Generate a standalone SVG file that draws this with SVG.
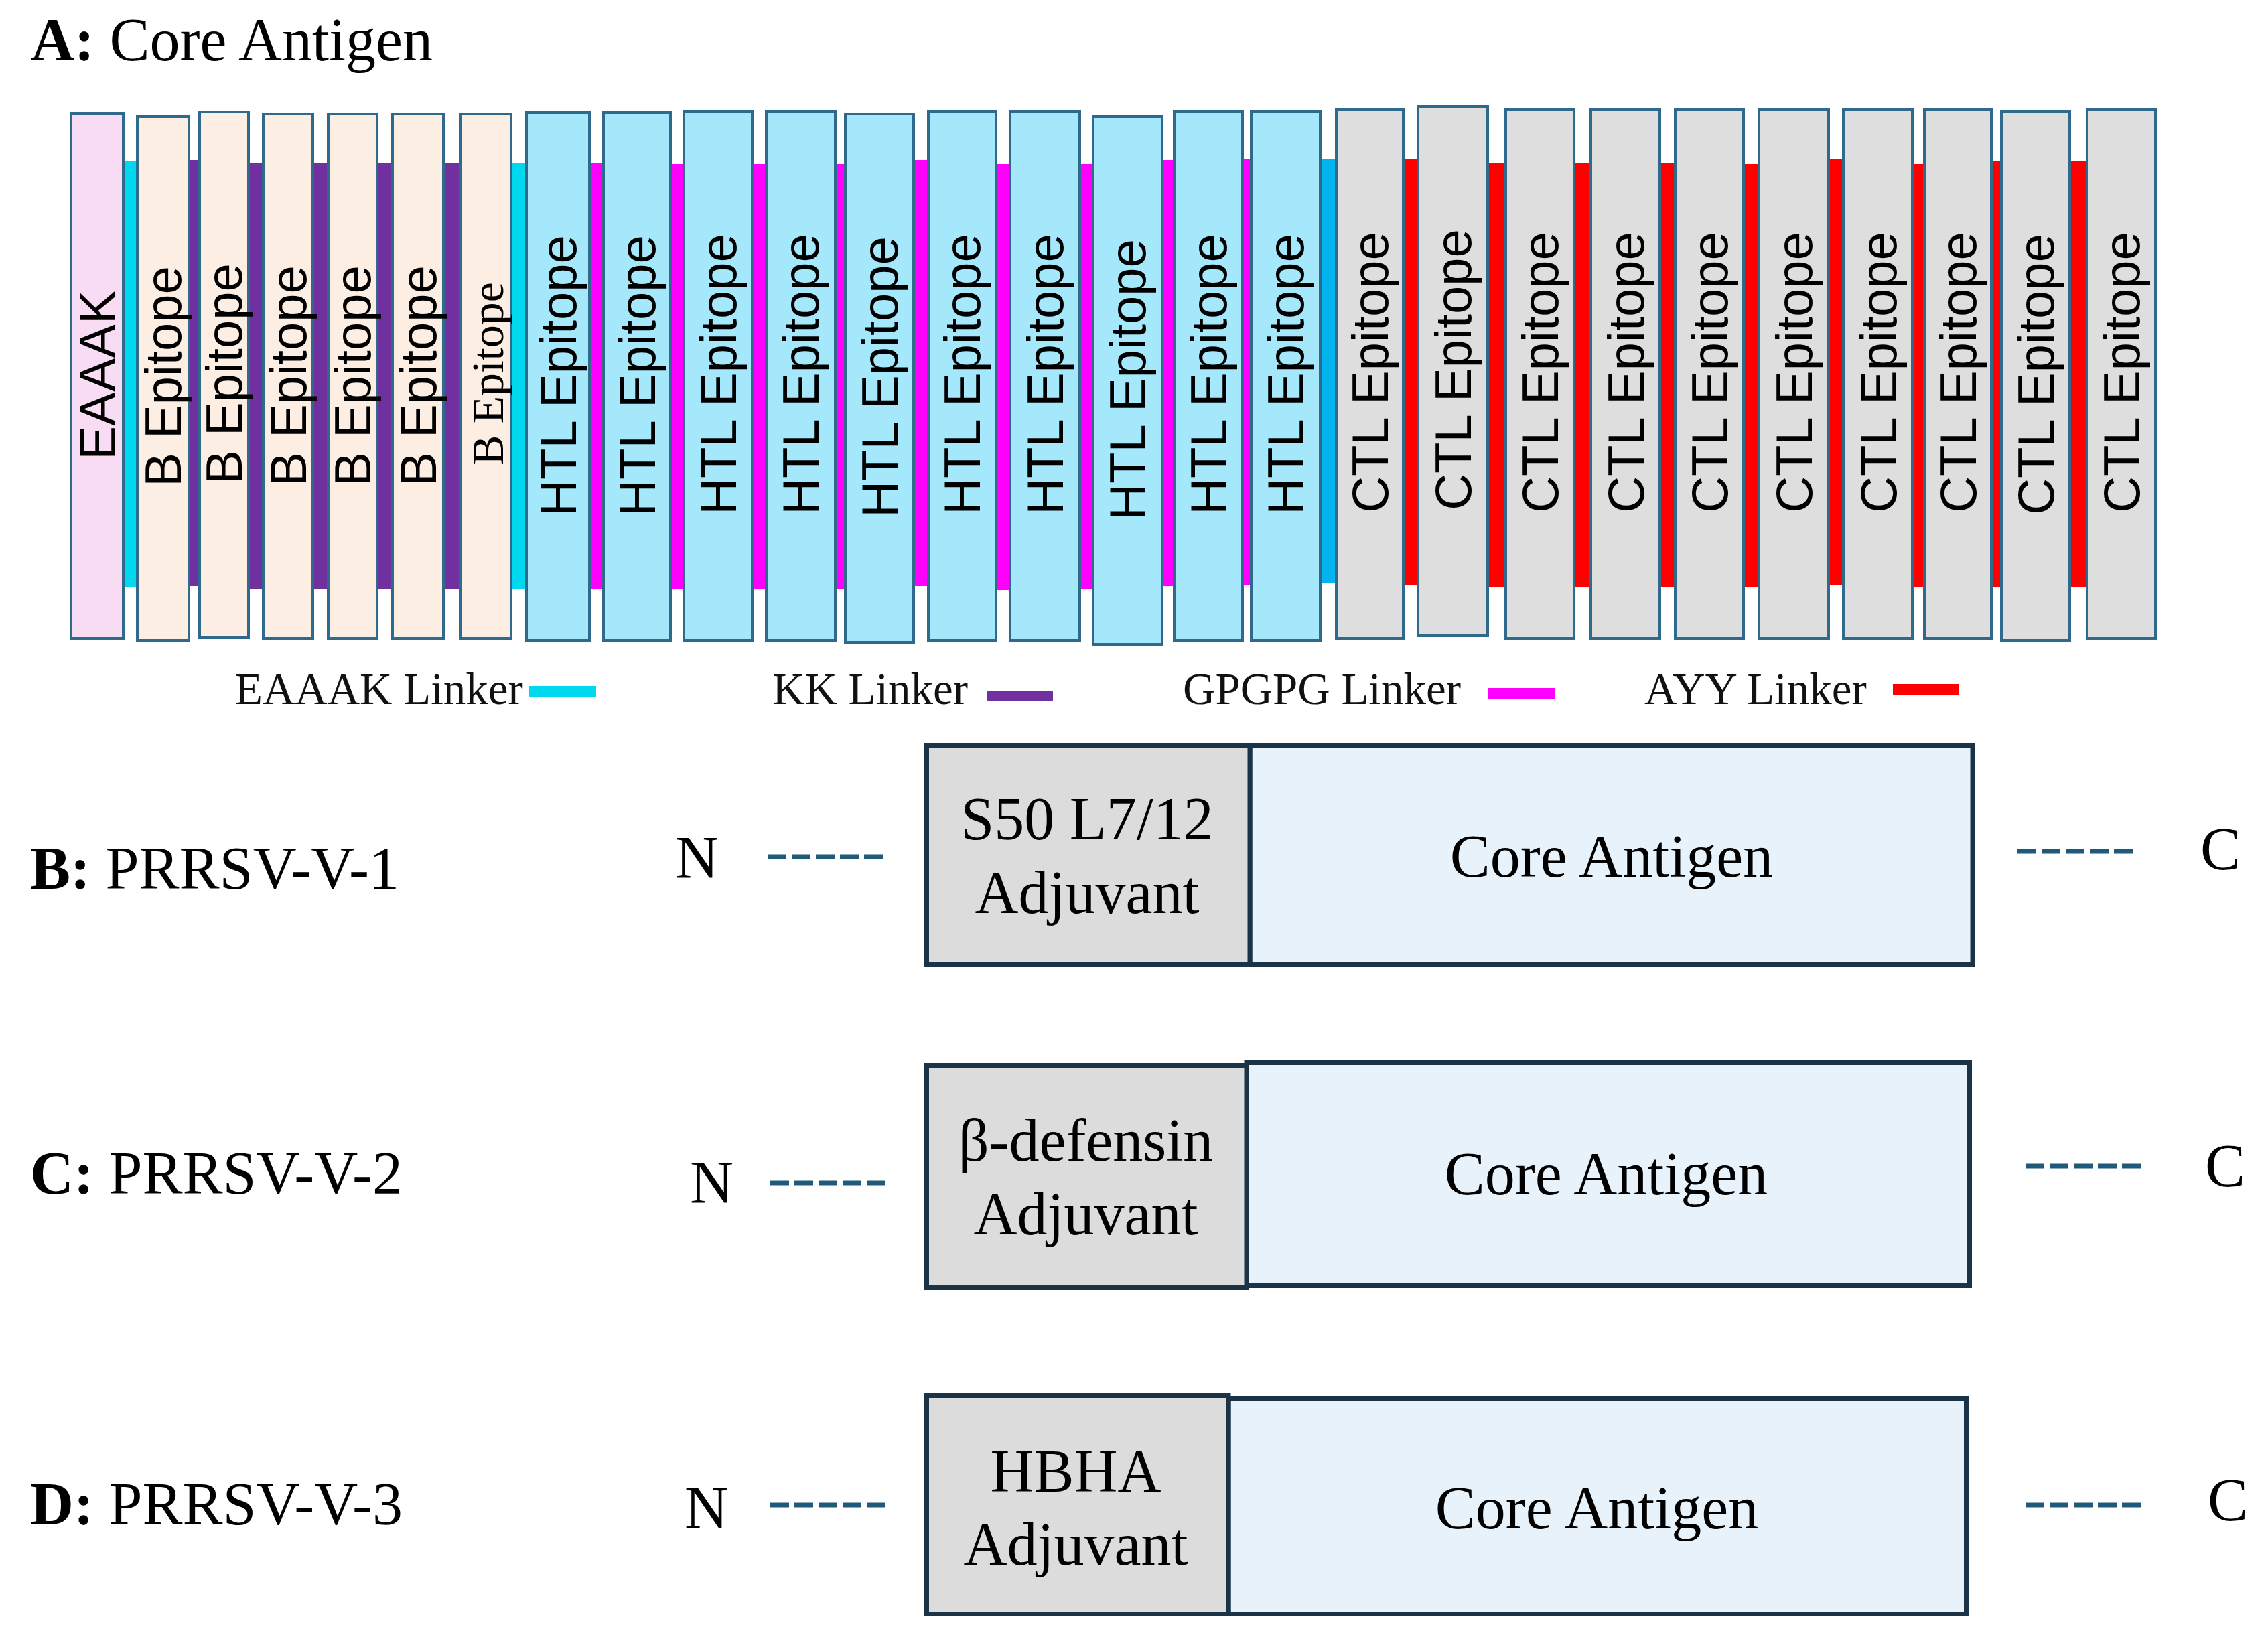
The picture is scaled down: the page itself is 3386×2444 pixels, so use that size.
<svg xmlns="http://www.w3.org/2000/svg" width="3386" height="2444" viewBox="0 0 3386 2444">
<style>
.lbl{font-family:"Liberation Serif","Times New Roman",serif;font-size:90px;fill:#000}
.mid{text-anchor:middle}
.ep{font-family:"Liberation Sans",Arial,sans-serif;font-size:76px;text-anchor:middle;fill:#000}
.ep6{font-family:"Liberation Serif","Times New Roman",serif;font-size:68px;text-anchor:middle;fill:#000}
.leg{font-family:"Liberation Serif","Times New Roman",serif;font-size:67px;fill:#111}
.box{stroke:#2f6a8c;stroke-width:4}
.eaaak{fill:#f8dcf3}.bep{fill:#fdeee3}.htl{fill:#a5e8fb}.ctl{fill:#dedede}
.adj{fill:#dcdcdc;stroke:#1b3347;stroke-width:7}
.core{fill:#e8f2fb;stroke:#1b3347;stroke-width:7}
.dash{stroke:#1f5b78;stroke-width:7;stroke-dasharray:28 8;fill:none}
.lc{fill:#00d8f0}.lk{fill:#7030a0}.lg{fill:#ff00ff}.la{fill:#ff0000}.lc2{fill:#00b4ef}
</style>
<rect width="3386" height="2444" fill="#fff"/>
<text class="lbl" x="46" y="90"><tspan font-weight="bold">A:</tspan> Core Antigen</text>
<g id="linkers">
<rect class="lc" x="183" y="241" width="23" height="636"/>
<rect class="lk" x="281" y="239" width="18" height="636"/>
<rect class="lk" x="370" y="243" width="24" height="636"/>
<rect class="lk" x="466" y="243" width="25" height="636"/>
<rect class="lk" x="562" y="243" width="25" height="636"/>
<rect class="lk" x="661" y="243" width="28" height="636"/>
<rect class="lc" x="762" y="243" width="25" height="636"/>
<rect class="lg" x="879" y="243" width="23" height="636"/>
<rect class="lg" x="1000" y="245" width="22" height="634"/>
<rect class="lg" x="1122" y="245" width="23" height="634"/>
<rect class="lg" x="1246" y="245" width="17" height="634"/>
<rect class="lg" x="1363" y="239" width="24" height="636"/>
<rect class="lg" x="1486" y="245" width="23" height="636"/>
<rect class="lg" x="1611" y="245" width="22" height="634"/>
<rect class="lg" x="1734" y="239" width="20" height="636"/>
<rect class="lg" x="1854" y="237" width="15" height="636"/>
<rect class="lc2" x="1972" y="237" width="24" height="634"/>
<rect class="la" x="2094" y="237" width="24" height="636"/>
<rect class="la" x="2220" y="243" width="29" height="634"/>
<rect class="la" x="2349" y="243" width="27" height="634"/>
<rect class="la" x="2477" y="243" width="25" height="634"/>
<rect class="la" x="2602" y="245" width="25" height="632"/>
<rect class="la" x="2729" y="237" width="24" height="636"/>
<rect class="la" x="2854" y="245" width="20" height="632"/>
<rect class="la" x="2966" y="241" width="23" height="636"/>
<rect class="la" x="3089" y="241" width="28" height="636"/>
</g>
<g id="n1"><rect class="box eaaak" x="106" y="169" width="78" height="784"/><text class="ep" transform="translate(172,560) rotate(-90)">EAAAK</text></g>
<g id="n2"><rect class="box bep" x="205" y="174" width="77" height="782"/><text class="ep" transform="translate(270,562) rotate(-90)">B Epitope</text></g>
<g id="n3"><rect class="box bep" x="298" y="167" width="73" height="785"/><text class="ep" transform="translate(361,558) rotate(-90)">B Epitope</text></g>
<g id="n4"><rect class="box bep" x="393" y="170" width="74" height="783"/><text class="ep" transform="translate(457,561) rotate(-90)">B Epitope</text></g>
<g id="n5"><rect class="box bep" x="490" y="170" width="73" height="783"/><text class="ep" transform="translate(553,561) rotate(-90)">B Epitope</text></g>
<g id="n6"><rect class="box bep" x="586" y="170" width="76" height="783"/><text class="ep" transform="translate(651,561) rotate(-90)">B Epitope</text></g>
<g id="n7"><rect class="box bep" x="688" y="170" width="75" height="783"/><text class="ep6" transform="translate(751,558) rotate(-90)">B Epitope</text></g>
<g id="n8"><rect class="box htl" x="786" y="168" width="94" height="788"/><text class="ep" transform="translate(860,561) rotate(-90)">HTL Epitope</text></g>
<g id="n9"><rect class="box htl" x="901" y="168" width="100" height="788"/><text class="ep" transform="translate(978,561) rotate(-90)">HTL Epitope</text></g>
<g id="n10"><rect class="box htl" x="1021" y="166" width="102" height="790"/><text class="ep" transform="translate(1099,559) rotate(-90)">HTL Epitope</text></g>
<g id="n11"><rect class="box htl" x="1144" y="166" width="103" height="790"/><text class="ep" transform="translate(1222,559) rotate(-90)">HTL Epitope</text></g>
<g id="n12"><rect class="box htl" x="1262" y="170" width="102" height="789"/><text class="ep" transform="translate(1340,563) rotate(-90)">HTL Epitope</text></g>
<g id="n13"><rect class="box htl" x="1386" y="166" width="101" height="790"/><text class="ep" transform="translate(1463,559) rotate(-90)">HTL Epitope</text></g>
<g id="n14"><rect class="box htl" x="1508" y="166" width="104" height="790"/><text class="ep" transform="translate(1587,559) rotate(-90)">HTL Epitope</text></g>
<g id="n15"><rect class="box htl" x="1632" y="174" width="103" height="788"/><text class="ep" transform="translate(1710,567) rotate(-90)">HTL Epitope</text></g>
<g id="n16"><rect class="box htl" x="1753" y="166" width="102" height="790"/><text class="ep" transform="translate(1831,559) rotate(-90)">HTL Epitope</text></g>
<g id="n17"><rect class="box htl" x="1868" y="166" width="103" height="790"/><text class="ep" transform="translate(1946,559) rotate(-90)">HTL Epitope</text></g>
<g id="n18"><rect class="box ctl" x="1995" y="163" width="100" height="790"/><text class="ep" transform="translate(2072,556) rotate(-90)">CTL Epitope</text></g>
<g id="n19"><rect class="box ctl" x="2117" y="159" width="104" height="790"/><text class="ep" transform="translate(2196,552) rotate(-90)">CTL Epitope</text></g>
<g id="n20"><rect class="box ctl" x="2248" y="163" width="102" height="790"/><text class="ep" transform="translate(2326,556) rotate(-90)">CTL Epitope</text></g>
<g id="n21"><rect class="box ctl" x="2375" y="163" width="103" height="790"/><text class="ep" transform="translate(2454,556) rotate(-90)">CTL Epitope</text></g>
<g id="n22"><rect class="box ctl" x="2501" y="163" width="102" height="790"/><text class="ep" transform="translate(2579,556) rotate(-90)">CTL Epitope</text></g>
<g id="n23"><rect class="box ctl" x="2626" y="163" width="104" height="790"/><text class="ep" transform="translate(2705,556) rotate(-90)">CTL Epitope</text></g>
<g id="n24"><rect class="box ctl" x="2752" y="163" width="103" height="790"/><text class="ep" transform="translate(2831,556) rotate(-90)">CTL Epitope</text></g>
<g id="n25"><rect class="box ctl" x="2873" y="163" width="100" height="790"/><text class="ep" transform="translate(2950,556) rotate(-90)">CTL Epitope</text></g>
<g id="n26"><rect class="box ctl" x="2988" y="166" width="102" height="790"/><text class="ep" transform="translate(3066,559) rotate(-90)">CTL Epitope</text></g>
<g id="n27"><rect class="box ctl" x="3116" y="163" width="102" height="790"/><text class="ep" transform="translate(3194,556) rotate(-90)">CTL Epitope</text></g>
<g id="legend">
<text class="leg" x="351" y="1051">EAAAK Linker</text><rect class="lc" x="790" y="1024" width="100" height="16"/>
<text class="leg" x="1153" y="1051">KK Linker</text><rect class="lk" x="1474" y="1031" width="98" height="16"/>
<text class="leg" x="1766" y="1051">GPGPG Linker</text><rect class="lg" x="2221" y="1027" width="100" height="16"/>
<text class="leg" x="2455" y="1051">AYY Linker</text><rect class="la" x="2826" y="1021" width="98" height="16"/>
</g>
<g id="rowB">
<text class="lbl" x="45" y="1327"><tspan font-weight="bold">B:</tspan> PRRSV-V-1</text>
<text class="lbl" x="1008" y="1311">N</text>
<rect class="core" x="1866" y="1112.5" width="1079" height="327"/>
<rect class="adj" x="1383.5" y="1112.5" width="482.5" height="327"/>
<text class="lbl mid" x="1623" y="1253">S50 L7/12</text>
<text class="lbl mid" x="1623" y="1363">Adjuvant</text>
<text class="lbl mid" x="2406" y="1309">Core Antigen</text>
<text class="lbl" x="3285" y="1298">C</text>
</g>
<g id="rowC">
<text class="lbl" x="45" y="1782"><tspan font-weight="bold">C:</tspan> PRRSV-V-2</text>
<text class="lbl" x="1030" y="1796">N</text>
<rect class="core" x="1861" y="1586.5" width="1079.5" height="333"/>
<rect class="adj" x="1383.5" y="1590.5" width="477.5" height="332"/>
<text class="lbl mid" x="1621" y="1733">β-defensin</text>
<text class="lbl mid" x="1621" y="1843">Adjuvant</text>
<text class="lbl mid" x="2398" y="1783">Core Antigen</text>
<text class="lbl" x="3292" y="1771">C</text>
</g>
<g id="rowD">
<text class="lbl" x="45" y="2276"><tspan font-weight="bold">D:</tspan> PRRSV-V-3</text>
<text class="lbl" x="1022" y="2282">N</text>
<rect class="core" x="1834" y="2087.5" width="1101.5" height="322"/>
<rect class="adj" x="1383.5" y="2083.5" width="450.5" height="326"/>
<text class="lbl mid" x="1606" y="2227">HBHA</text>
<text class="lbl mid" x="1606" y="2336">Adjuvant</text>
<text class="lbl mid" x="2384" y="2282">Core Antigen</text>
<text class="lbl" x="3296" y="2270">C</text>
</g>
<g id="connectors">
<line class="dash" x1="1146" y1="1279" x2="1318" y2="1279"/>
<line class="dash" x1="3012" y1="1271" x2="3184" y2="1271"/>
<line class="dash" x1="1150" y1="1766" x2="1322" y2="1766"/>
<line class="dash" x1="3024" y1="1741" x2="3196" y2="1741"/>
<line class="dash" x1="1150" y1="2247" x2="1322" y2="2247"/>
<line class="dash" x1="3024" y1="2247" x2="3196" y2="2247"/>
</g>
</svg>
